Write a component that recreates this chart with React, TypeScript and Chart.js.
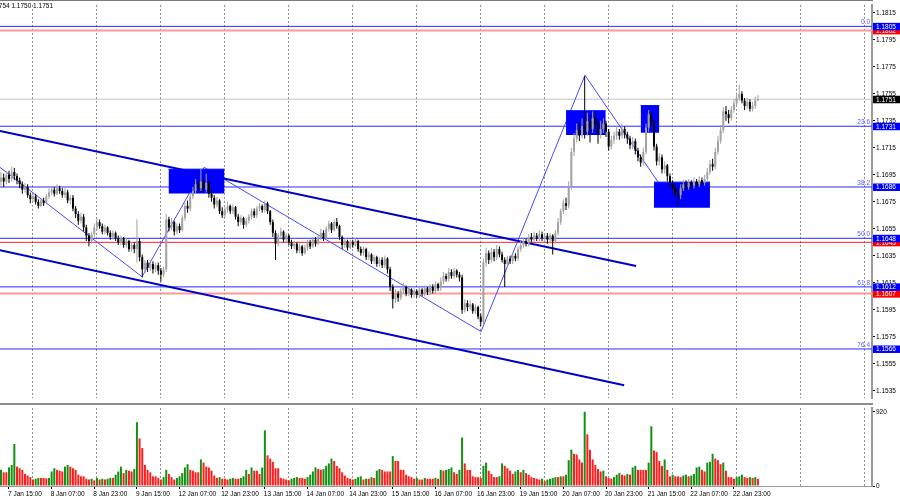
import React, { useEffect, useRef } from 'react';
import { Chart, registerables } from 'chart.js';

Chart.register(...registerables);

// ---------- data ----------
const FIRST_OPEN = 1.169;
const CLOSE = [
  1.1693,1.1690,1.1695,1.1692,1.1697,1.1694,1.1691,1.1688,1.1684,1.1686,
  1.1680,1.1677,1.1679,1.1675,1.1672,1.1676,1.1674,1.1679,1.1682,1.1684,
  1.1681,1.1685,1.1683,1.1680,1.1682,1.1676,1.1678,1.1670,1.1666,1.1661,
  1.1664,1.1656,1.1650,1.1646,1.1651,1.1656,1.1660,1.1657,1.1653,1.1656,
  1.1652,1.1649,1.1652,1.1648,1.1645,1.1648,1.1643,1.1646,1.1640,1.1643,
  1.1640,1.1646,1.1634,1.1625,1.1630,1.1626,1.1629,1.1625,1.1628,1.1624,
  1.1621,1.1625,1.1662,1.1656,1.1660,1.1653,1.1657,1.1654,1.1663,1.1672,
  1.1670,1.1679,1.1683,1.1688,1.1685,1.1690,1.1684,1.1689,1.1681,1.1678,
  1.1673,1.1676,1.1668,1.1665,1.1669,1.1672,1.1668,1.1671,1.1664,1.1660,
  1.1663,1.1658,1.1661,1.1664,1.1668,1.1665,1.1670,1.1672,1.1669,1.1674,
  1.1668,1.1660,1.1652,1.1644,1.1650,1.1653,1.1647,1.1650,1.1645,1.1642,
  1.1644,1.1639,1.1642,1.1637,1.1641,1.1645,1.1642,1.1647,1.1644,1.1649,
  1.1652,1.1648,1.1655,1.1659,1.1654,1.1660,1.1657,1.1649,1.1643,1.1646,
  1.1641,1.1645,1.1643,1.1646,1.1640,1.1637,1.1640,1.1634,1.1636,1.1631,
  1.1634,1.1629,1.1632,1.1628,1.1633,1.1625,1.1612,1.1603,1.1607,1.1604,
  1.1609,1.1612,1.1607,1.1610,1.1606,1.1609,1.1606,1.1610,1.1607,1.1611,
  1.1608,1.1612,1.1609,1.1614,1.1611,1.1616,1.1620,1.1618,1.1623,1.1620,
  1.1624,1.1621,1.1619,1.1595,1.1600,1.1597,1.1599,1.1594,1.1597,1.1590,
  1.1586,1.1630,1.1637,1.1632,1.1638,1.1634,1.1640,1.1636,1.1632,1.1629,
  1.1633,1.1631,1.1635,1.1633,1.1640,1.1643,1.1646,1.1644,1.1649,1.1647,
  1.1650,1.1648,1.1651,1.1648,1.1650,1.1647,1.1650,1.1646,1.1652,1.1660,
  1.1668,1.1674,1.1672,1.1686,1.1712,1.1722,1.1728,1.1724,1.1731,1.1727,
  1.1735,1.1729,1.1737,1.1733,1.1725,1.1729,1.1733,1.1727,1.1716,1.1721,
  1.1724,1.1727,1.1724,1.1729,1.1725,1.1722,1.1717,1.1720,1.1713,1.1708,
  1.1704,1.1712,1.1730,1.1740,1.1734,1.1716,1.1705,1.1708,1.1699,1.1702,
  1.1694,1.1689,1.1685,1.1682,1.1680,1.1685,1.1688,1.1686,1.1689,1.1687,
  1.1690,1.1688,1.1691,1.1689,1.1692,1.1697,1.1703,1.1701,1.1712,1.1720,
  1.1728,1.1742,1.1740,1.1737,1.1743,1.1748,1.1752,1.1755,1.1750,1.1746,
  1.1749,1.1744,1.1746,1.1750,1.1751,
];
const HIGH = [
  1.1697,1.1696,1.1698,1.1698,1.1701,1.1700,1.1696,1.1693,1.1690,1.1689,
  1.1688,1.1682,1.1682,1.1681,1.1677,1.1678,1.1678,1.1681,1.1685,1.1687,
  1.1686,1.1688,1.1687,1.1685,1.1685,1.1684,1.1680,1.1680,1.1672,1.1668,
  1.1667,1.1666,1.1658,1.1652,1.1653,1.1659,1.1663,1.1662,1.1659,1.1658,
  1.1657,1.1654,1.1654,1.1653,1.1650,1.1650,1.1649,1.1648,1.1647,1.1645,
  1.1645,1.1662,1.1648,1.1636,1.1632,1.1632,1.1632,1.1631,1.1630,1.1630,
  1.1626,1.1627,1.1666,1.1664,1.1663,1.1661,1.1659,1.1659,1.1665,1.1675,
  1.1676,1.1682,1.1686,1.1692,1.1691,1.1700,1.1693,1.1696,1.1691,1.1684,
  1.1680,1.1679,1.1677,1.1671,1.1671,1.1675,1.1673,1.1673,1.1672,1.1666,
  1.1665,1.1664,1.1663,1.1666,1.1670,1.1670,1.1672,1.1674,1.1673,1.1676,
  1.1675,1.1669,1.1662,1.1654,1.1652,1.1656,1.1654,1.1652,1.1651,1.1647,
  1.1646,1.1645,1.1644,1.1643,1.1643,1.1647,1.1647,1.1649,1.1649,1.1651,
  1.1655,1.1654,1.1657,1.1661,1.1660,1.1662,1.1663,1.1658,1.1650,1.1648,
  1.1647,1.1647,1.1647,1.1648,1.1647,1.1642,1.1642,1.1641,1.1638,1.1637,
  1.1636,1.1635,1.1634,1.1634,1.1635,1.1634,1.1627,1.1614,1.1610,1.1609,
  1.1611,1.1615,1.1613,1.1612,1.1611,1.1611,1.1610,1.1612,1.1611,1.1613,
  1.1612,1.1614,1.1614,1.1616,1.1615,1.1619,1.1623,1.1622,1.1626,1.1625,
  1.1626,1.1625,1.1623,1.1621,1.1603,1.1602,1.1602,1.1600,1.1599,1.1598,
  1.1592,1.1633,1.1641,1.1639,1.1641,1.1640,1.1643,1.1642,1.1638,1.1634,
  1.1635,1.1635,1.1637,1.1637,1.1642,1.1646,1.1649,1.1648,1.1651,1.1652,
  1.1653,1.1652,1.1654,1.1653,1.1652,1.1652,1.1652,1.1651,1.1654,1.1663,
  1.1670,1.1677,1.1678,1.1690,1.1715,1.1726,1.1733,1.1734,1.1737,1.1768,
  1.1741,1.1739,1.1742,1.1741,1.1736,1.1735,1.1737,1.1735,1.1729,1.1724,
  1.1727,1.1731,1.1729,1.1733,1.1731,1.1727,1.1724,1.1723,1.1722,1.1715,
  1.1710,1.1715,1.1733,1.1743,1.1742,1.1736,1.1718,1.1711,1.1710,1.1705,
  1.1703,1.1696,1.1691,1.1688,1.1685,1.1688,1.1691,1.1691,1.1692,1.1691,
  1.1693,1.1692,1.1694,1.1693,1.1695,1.1700,1.1706,1.1707,1.1715,1.1724,
  1.1732,1.1745,1.1746,1.1743,1.1746,1.1751,1.1756,1.1762,1.1757,1.1752,
  1.1752,1.1751,1.1749,1.1753,1.1754,
];
const LOW = [
  1.1687,1.1686,1.1688,1.1689,1.1690,1.1691,1.1688,1.1685,1.1681,1.1682,
  1.1678,1.1674,1.1675,1.1673,1.1670,1.1671,1.1672,1.1673,1.1677,1.1680,
  1.1679,1.1680,1.1681,1.1678,1.1678,1.1674,1.1673,1.1668,1.1663,1.1658,
  1.1659,1.1653,1.1646,1.1642,1.1644,1.1649,1.1654,1.1655,1.1651,1.1651,
  1.1650,1.1647,1.1647,1.1646,1.1643,1.1643,1.1641,1.1641,1.1638,1.1638,
  1.1637,1.1630,1.1631,1.1619,1.1622,1.1623,1.1624,1.1622,1.1623,1.1621,
  1.1616,1.1619,1.1623,1.1653,1.1654,1.1650,1.1651,1.1652,1.1653,1.1661,
  1.1667,1.1668,1.1677,1.1681,1.1683,1.1683,1.1682,1.1682,1.1678,1.1675,
  1.1670,1.1671,1.1666,1.1663,1.1663,1.1667,1.1666,1.1666,1.1662,1.1657,
  1.1658,1.1655,1.1656,1.1659,1.1662,1.1663,1.1663,1.1668,1.1667,1.1667,
  1.1666,1.1658,1.1649,1.1632,1.1642,1.1648,1.1645,1.1645,1.1643,1.1640,
  1.1640,1.1637,1.1637,1.1635,1.1636,1.1639,1.1640,1.1641,1.1642,1.1643,
  1.1647,1.1646,1.1647,1.1653,1.1652,1.1653,1.1655,1.1647,1.1640,1.1641,
  1.1639,1.1640,1.1641,1.1642,1.1638,1.1635,1.1635,1.1632,1.1632,1.1629,
  1.1629,1.1627,1.1627,1.1626,1.1626,1.1622,1.1609,1.1596,1.1600,1.1601,
  1.1602,1.1607,1.1605,1.1605,1.1604,1.1604,1.1604,1.1604,1.1605,1.1605,
  1.1606,1.1606,1.1607,1.1607,1.1609,1.1609,1.1614,1.1616,1.1616,1.1618,
  1.1618,1.1619,1.1616,1.1592,1.1593,1.1594,1.1595,1.1592,1.1592,1.1588,
  1.1583,1.1584,1.1627,1.1629,1.1630,1.1631,1.1632,1.1634,1.1630,1.1612,
  1.1627,1.1629,1.1629,1.1631,1.1631,1.1638,1.1641,1.1642,1.1642,1.1645,
  1.1645,1.1646,1.1646,1.1646,1.1645,1.1644,1.1644,1.1636,1.1644,1.1650,
  1.1658,1.1666,1.1669,1.1670,1.1684,1.1709,1.1719,1.1720,1.1722,1.1722,
  1.1724,1.1719,1.1726,1.1729,1.1718,1.1722,1.1726,1.1723,1.1713,1.1714,
  1.1718,1.1721,1.1721,1.1722,1.1722,1.1718,1.1714,1.1714,1.1710,1.1705,
  1.1701,1.1702,1.1710,1.1727,1.1731,1.1713,1.1702,1.1702,1.1696,1.1696,
  1.1690,1.1686,1.1681,1.1678,1.1672,1.1677,1.1683,1.1684,1.1684,1.1685,
  1.1685,1.1686,1.1686,1.1687,1.1687,1.1690,1.1695,1.1698,1.1699,1.1710,
  1.1718,1.1726,1.1735,1.1733,1.1735,1.1741,1.1746,1.1750,1.1748,1.1743,
  1.1744,1.1742,1.1742,1.1744,1.1750,
];
const VOLUME = [
  200,170,170,230,260,520,240,220,200,150,
  130,110,80,90,100,100,100,95,100,180,
  220,200,190,180,240,260,240,220,200,140,
  120,120,90,80,90,70,100,80,90,80,
  90,100,100,140,180,240,160,200,190,180,
  210,790,590,470,260,200,170,120,120,100,
  80,110,200,150,110,80,100,120,160,230,
  270,200,190,170,170,330,290,240,230,190,
  130,100,110,90,90,80,90,100,90,90,
  100,120,200,150,230,190,190,150,230,690,
  380,340,300,220,220,100,90,80,70,90,
  100,110,100,100,90,110,140,180,230,210,
  200,210,250,280,340,310,250,220,170,130,
  100,90,80,90,110,120,80,90,90,110,
  100,190,210,200,180,180,180,370,310,310,
  200,200,140,120,110,90,100,80,80,100,
  90,90,90,100,90,200,190,200,210,230,
  170,150,200,600,280,200,200,120,110,110,
  100,250,290,190,150,110,110,120,280,250,
  220,190,150,180,200,170,200,160,140,110,
  100,90,80,90,60,80,90,100,110,110,
  120,120,140,320,450,400,390,330,290,920,
  640,450,330,260,210,180,190,120,100,90,
  110,140,160,140,130,150,140,230,250,200,
  200,200,200,290,740,440,420,310,250,330,
  200,120,140,120,120,110,130,140,120,130,
  150,230,240,200,180,290,300,400,340,320,
  270,290,190,110,110,90,110,120,140,110,
  100,110,100,110,90,
];

const X_LABELS = [
  '7 Jan 15:00', '8 Jan 07:00', '8 Jan 23:00', '9 Jan 15:00', '12 Jan 07:00', '12 Jan 23:00',
  '13 Jan 15:00', '14 Jan 07:00', '14 Jan 23:00', '15 Jan 15:00', '16 Jan 07:00', '16 Jan 23:00',
  '19 Jan 15:00', '20 Jan 07:00', '20 Jan 23:00', '21 Jan 15:00', '22 Jan 07:00', '22 Jan 23:00',
];
const X_LABEL_BARS = [3, 19, 35, 51, 67, 83, 99, 115, 131, 147, 163, 179, 195, 211, 227, 243, 259, 275];
const DAY_GRID_BARS = [12, 36, 60, 84, 108, 132, 156, 180, 204, 228, 252, 276, 300, 324];
const PRICE_TICKS = [1.1815, 1.1795, 1.1775, 1.1755, 1.1735, 1.1715, 1.1695, 1.1675, 1.1655, 1.1635, 1.1615, 1.1595, 1.1575, 1.1555, 1.1535];
const VOLUME_TICKS = [0, 920];

const FIB_LEVELS = [1.1805, 1.1731, 1.1686, 1.1648, 1.1612, 1.1566];
const FIB_NAMES = ['0.0', '23.6', '38.2', '50.0', '61.8', '76.4'];
const RED_LEVELS = [1.1802, 1.1645, 1.1607];
const LAST_PRICE = 1.1751;
const HEADER = '1.1754 1.1750 1.1751';

const UPPER_CHANNEL = [{ x: -0.4, y: 1.17275 }, { x: 238.3, y: 1.16275 }];
const LOWER_CHANNEL = [{ x: -0.4, y: 1.16391 }, { x: 233.8, y: 1.15391 }];
const ZIGZAG = [
  { x: -0.4, y: 1.17006 }, { x: 52.9, y: 1.16195 }, { x: 76.2, y: 1.17006 },
  { x: 180.1, y: 1.15789 }, { x: 219.1, y: 1.17688 }, { x: 246.5, y: 1.16898 },
];
const BOX_X0 = [62.85, 212.0, 240.0, 245.0];
const BOX_X1 = [83.86, 226.9, 247.0, 266.0];
const BOX_TOP = [1.16992, 1.17425, 1.17463, 1.16896];
const BOX_BOTTOM = [1.16811, 1.17246, 1.17262, 1.16707];

const X_MIN = -0.375;
const X_MAX = 326.8;
const PRICE_MIN = 1.15296;
const PRICE_MAX = 1.18209;
const VOL_MAX = 968;

// ---------- styling ----------
const FONT = '"Liberation Sans", Arial, sans-serif';
const FS = 6.5;
const AXIS_GRAY = '#9a9a9a';
const GRID_GRAY = '#8c8c8c';
const BULL = '#a2a2a2';
const BEAR = '#000000';
const FIB_BLUE = '#2a2aff';
const CHANNEL_BLUE = '#0000c8';
const BOX_BLUE = '#0000ff';

const OPEN = CLOSE.map((c, i) => (i === 0 ? FIRST_OPEN : CLOSE[i - 1]));

const hLine = (level: number, color: string, width: number, order: number) => ({
  type: 'line' as const,
  data: [{ x: X_MIN, y: level }, { x: X_MAX, y: level }],
  borderColor: color,
  borderWidth: width,
  pointRadius: 0,
  fill: false,
  order,
});

const mainDecor = {
  id: 'mainDecor',
  afterDraw(chart: any) {
    const { ctx, chartArea, scales } = chart;
    const y = scales.y;
    ctx.save();
    ctx.fillStyle = '#7a7a7a';
    ctx.fillRect(0, 0, chartArea.right + 1, 1);
    ctx.font = `${FS}px ${FONT}`;
    ctx.fillStyle = '#000';
    ctx.textAlign = 'right';
    ctx.textBaseline = 'middle';
    ctx.fillText(HEADER, 53, 6.5);
    ctx.fillStyle = '#5a5aff';
    ctx.textBaseline = 'bottom';
    FIB_LEVELS.forEach((lv, k) => {
      ctx.fillText(FIB_NAMES[k], chartArea.right - 2, y.getPixelForValue(lv) - 0.5);
    });
    const tag = (v: number, bg: string) => {
      const py = y.getPixelForValue(v);
      ctx.fillStyle = bg;
      ctx.fillRect(chartArea.right + 1, py - 3.5, 27, 7.5);
      ctx.fillStyle = '#fff';
      ctx.textAlign = 'left';
      ctx.textBaseline = 'middle';
      ctx.fillText(v.toFixed(4), chartArea.right + 4, py + 0.5);
    };
    RED_LEVELS.forEach((v) => tag(v, '#ff0000'));
    tag(LAST_PRICE, '#000000');
    FIB_LEVELS.forEach((v) => tag(v, '#0000ff'));
    ctx.restore();
  },
};

const volDecor = {
  id: 'volDecor',
  afterDraw(chart: any) {
    const { ctx, chartArea } = chart;
    ctx.save();
    ctx.fillStyle = '#8c8c8c';
    ctx.fillRect(0, 0, chartArea.right + 1, 2);
    ctx.restore();
  },
};

const gridX = () => ({
  type: 'linear',
  position: 'bottom',
  min: X_MIN,
  max: X_MAX,
  offset: false,
  afterBuildTicks: (s: any) => { s.ticks = DAY_GRID_BARS.map((v) => ({ value: v })); },
  afterFit: (s: any) => { s.height = 0; },
  ticks: { display: false },
  grid: { offset: false, color: GRID_GRAY, lineWidth: 1, drawTicks: false, borderDash: [2, 2] },
  border: { display: false, dash: [2, 2] },
});

function mainConfig(): any {
  const bodies = {
    type: 'bar',
    data: CLOSE.map((c, i) => ({ x: i, y: [OPEN[i], c] })),
    backgroundColor: CLOSE.map((c, i) => (c >= OPEN[i] ? BULL : BEAR)),
    barThickness: 2,
    grouped: false,
    borderWidth: 0,
    inflateAmount: 0,
    order: 0,
  };
  const wicks = {
    type: 'bar',
    data: CLOSE.map((c, i) => ({ x: i, y: [LOW[i], HIGH[i]] })),
    backgroundColor: CLOSE.map((c, i) => (c >= OPEN[i] ? BULL : BEAR)),
    barThickness: 1,
    grouped: false,
    borderWidth: 0,
    inflateAmount: 0,
    order: 1,
  };
  const boxes = BOX_X0.map((x0, k) => ({
    type: 'line',
    data: [{ x: x0, y: BOX_TOP[k] }, { x: BOX_X1[k], y: BOX_TOP[k] }],
    borderColor: BOX_BLUE,
    borderWidth: 1,
    backgroundColor: BOX_BLUE,
    fill: { value: BOX_BOTTOM[k] },
    pointRadius: 0,
    order: 2,
  }));
  const channels = [UPPER_CHANNEL, LOWER_CHANNEL].map((d) => ({
    type: 'line',
    data: d,
    borderColor: CHANNEL_BLUE,
    borderWidth: 2,
    pointRadius: 0,
    fill: false,
    order: 3,
  }));
  const zig = {
    type: 'line',
    data: ZIGZAG,
    borderColor: '#4848ff',
    borderWidth: 1,
    pointRadius: 0,
    fill: false,
    order: 4,
  };
  const fibs = FIB_LEVELS.map((lv) => hLine(lv, FIB_BLUE, 1, 5));
  const reds = RED_LEVELS.map((lv, k) => hLine(lv, k === 1 ? '#ff2020' : '#ff9898', k === 1 ? 1 : 2, 6));
  const last = hLine(LAST_PRICE, '#c4c4c4', 1, 7);

  return {
    type: 'bar',
    data: { datasets: [bodies, wicks, ...boxes, ...channels, zig, ...fibs, ...reds, last] },
    options: {
      responsive: false,
      animation: false,
      devicePixelRatio: 1,
      events: [],
      layout: { padding: { top: 1, bottom: 0, left: 0, right: 0 } },
      plugins: { legend: { display: false }, tooltip: { enabled: false } },
      scales: {
        x: gridX(),
        y: {
          type: 'linear',
          position: 'right',
          min: PRICE_MIN,
          max: PRICE_MAX,
          afterBuildTicks: (s: any) => { s.ticks = PRICE_TICKS.map((v) => ({ value: v })); },
          afterFit: (s: any) => { s.width = 28; },
          ticks: {
            autoSkip: false,
            padding: 1,
            color: '#000',
            font: { family: FONT, size: FS },
            callback: (v: any) => Number(v).toFixed(4),
          },
          grid: { drawOnChartArea: false, drawTicks: true, tickLength: 3, tickColor: '#000' },
          border: { display: true, color: AXIS_GRAY, width: 2 },
        },
      },
    },
    plugins: [mainDecor],
  };
}

function volConfig(): any {
  const colors = VOLUME.map((v, i) => (i === 0 || v > VOLUME[i - 1] ? '#138f13' : '#ff1e1e'));
  return {
    type: 'bar',
    data: {
      datasets: [{
        data: VOLUME.map((v, i) => ({ x: i, y: v })),
        backgroundColor: colors,
        barThickness: 2,
        borderWidth: 0,
        inflateAmount: 0,
        xAxisID: 'x',
        yAxisID: 'y',
      }],
    },
    options: {
      responsive: false,
      animation: false,
      devicePixelRatio: 1,
      events: [],
      layout: { padding: { top: 2, bottom: 0, left: 0, right: 0 } },
      plugins: { legend: { display: false }, tooltip: { enabled: false } },
      scales: {
        x: gridX(),
        xl: {
          type: 'linear',
          position: 'bottom',
          min: X_MIN,
          max: X_MAX,
          offset: false,
          afterBuildTicks: (s: any) => { s.ticks = X_LABEL_BARS.map((v) => ({ value: v })); },
          afterFit: (s: any) => { s.height = 14; },
          ticks: {
            autoSkip: false,
            maxRotation: 0,
            minRotation: 0,
            align: 'start',
            padding: 1,
            labelOffset: -1,
            color: '#000',
            font: { family: FONT, size: FS },
            callback: (v: any) => {
              const k = X_LABEL_BARS.indexOf(Number(v));
              return k >= 0 ? X_LABELS[k] : '';
            },
          },
          grid: { offset: false, drawOnChartArea: false, drawTicks: true, tickLength: 3, tickColor: '#000' },
          border: { display: true, color: AXIS_GRAY, width: 1 },
        },
        y: {
          type: 'linear',
          position: 'right',
          min: 0,
          max: VOL_MAX,
          afterBuildTicks: (s: any) => { s.ticks = VOLUME_TICKS.map((v) => ({ value: v })); },
          afterFit: (s: any) => { s.width = 28; },
          ticks: {
            autoSkip: false,
            padding: 1,
            color: '#000',
            font: { family: FONT, size: FS },
            callback: (v: any) => String(v),
          },
          grid: { drawOnChartArea: false, drawTicks: true, tickLength: 3, tickColor: '#000' },
          border: { display: true, color: AXIS_GRAY, width: 2 },
        },
      },
    },
    plugins: [volDecor],
  };
}

export default function App() {
  const mainRef = useRef<HTMLCanvasElement>(null);
  const volRef = useRef<HTMLCanvasElement>(null);
  useEffect(() => {
    const c1 = new Chart(mainRef.current as HTMLCanvasElement, mainConfig());
    const c2 = new Chart(volRef.current as HTMLCanvasElement, volConfig());
    return () => {
      c1.destroy();
      c2.destroy();
    };
  }, []);
  return (
    <div style={{ position: 'absolute', left: 0, top: 0, width: 900, height: 500, background: '#fff', overflow: 'hidden' }}>
      <canvas ref={mainRef} width={900} height={403} style={{ position: 'absolute', left: 0, top: 0, width: 900, height: 403 }} />
      <canvas ref={volRef} width={900} height={97} style={{ position: 'absolute', left: 0, top: 403, width: 900, height: 97 }} />
    </div>
  );
}
